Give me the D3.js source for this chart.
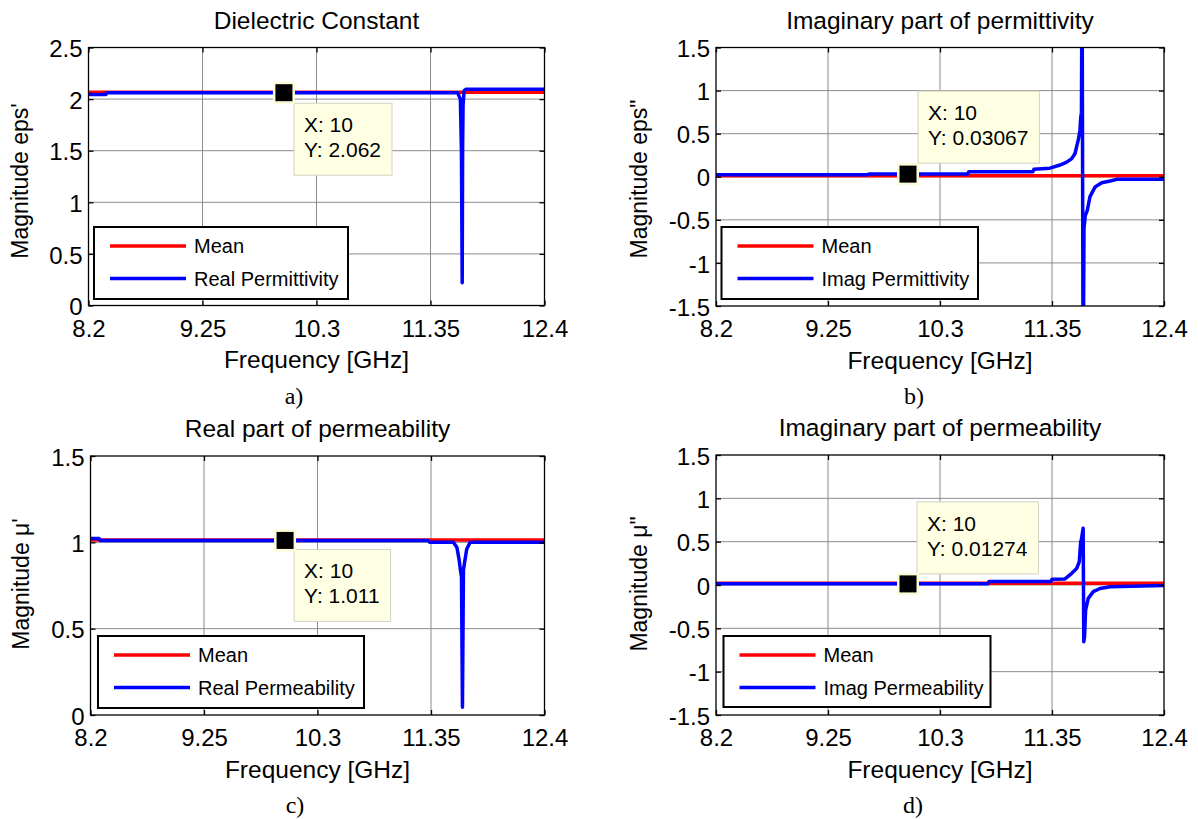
<!DOCTYPE html>
<html>
<head>
<meta charset="utf-8">
<script src="https://cdn.jsdelivr.net/npm/d3@7"></script>
<style>
  html, body { margin: 0; padding: 0; background: #fff; }
  text { font-family: Arial, "Liberation Sans", sans-serif; fill: #000; }
  .letter { font-family: "Times New Roman", "Liberation Serif", serif; }
</style>
</head>
<body>
<svg id="chart" width="1198" height="819"></svg>
<script>
  var xTicks = [8.2, 9.25, 10.3, 11.35, 12.4],
    xTickLabels = ['8.2', '9.25', '10.3', '11.35', '12.4'],
    meanFreq = [8.2, 12.4];

  // a) real permittivity
  var freqEpsRe = [8.2, 8.36, 8.37, 11.6, 11.625, 11.635, 11.642, 11.646, 11.65, 11.66, 11.675, 12.4],
    epsRe = [2.045, 2.045, 2.062, 2.062, 2.0, 1.5, 0.22, 1.55, 1.95, 2.08, 2.095, 2.095],
    meanEpsRe = [2.066, 2.066];

  // b) imaginary permittivity
  var freqEpsIm = [8.2, 9.62, 9.63, 10.56, 10.57, 11.17, 11.18, 11.33, 11.425, 11.488, 11.535, 11.566, 11.581,
      11.597, 11.612, 11.619, 11.626, 11.632, 11.642, 11.65, 11.662, 11.681, 11.706, 11.753, 11.816, 11.894, 11.956, 12.4],
    epsIm = [0.022, 0.022, 0.031, 0.031, 0.057, 0.057, 0.086, 0.1, 0.136, 0.17, 0.21, 0.27, 0.35,
      0.43, 0.54, 0.68, 0.75, 2.5, -2.5, -0.6, -0.45, -0.39, -0.23, -0.12, -0.07, -0.05, -0.03, -0.03],
    meanEpsIm = [0.012, 0.012];

  // c) real permeability
  var freqMuRe = [8.2, 8.28, 8.29, 11.32, 11.34, 11.557, 11.59, 11.61, 11.622, 11.632, 11.641, 11.65, 11.66, 11.68, 11.712, 12.4],
    muRe = [1.022, 1.022, 1.011, 1.011, 1.0, 1.0, 0.97, 0.9, 0.84, 0.8, 0.045, 0.84, 0.88, 0.96, 1.0, 1.0],
    meanMuRe = [1.013, 1.013];

  // d) imaginary permeability
  var freqMuIm = [8.2, 10.75, 10.76, 11.34, 11.35, 11.472, 11.535, 11.581, 11.606, 11.619, 11.625, 11.642,
      11.648, 11.655, 11.665, 11.69, 11.737, 11.8, 11.894, 12.4],
    muIm = [0.013, 0.013, 0.04, 0.04, 0.065, 0.07, 0.135, 0.19, 0.27, 0.5, 0.52, 0.654,
      -0.654, -0.6, -0.29, -0.154, -0.077, -0.04, -0.02, -0.005],
    meanMuIm = [0.02, 0.02];

  var tipX = 10,
    tipValues = [2.062, 0.03067, 1.011, 0.01274];

  var panels = [
    {l: 88.5, r: 544.5, t: 47.5, b: 305.5, yDomain: [0, 2.5], yTicks: [0, 0.5, 1, 1.5, 2, 2.5],
      title: 'Dielectric Constant', ylabel: "Magnitude eps'", ylx: 28, yly: 181,
      freq: freqEpsRe, vals: epsRe, mean: meanEpsRe, name: 'Real Permittivity',
      lg: {x: 94, y: 227, w: 254, h: 72}, tip: tipValues[0], tdx: 10, tdy: 10.5, below: true,
      letter: 'a)', lx: 294, ly: 404},
    {l: 716, r: 1164, t: 47.5, b: 306, yDomain: [-1.5, 1.5], yTicks: [-1.5, -1, -0.5, 0, 0.5, 1, 1.5],
      title: 'Imaginary part of permittivity', ylabel: 'Magnitude eps"', ylx: 647, yly: 179,
      freq: freqEpsIm, vals: epsIm, mean: meanEpsIm, name: 'Imag Permittivity',
      lg: {x: 721.5, y: 227, w: 256.5, h: 72}, tip: tipValues[1], tdx: 10, tdy: 11, below: false,
      letter: 'b)', lx: 914, ly: 404},
    {l: 90.5, r: 544.5, t: 456, b: 715, yDomain: [0, 1.5], yTicks: [0, 0.5, 1, 1.5],
      title: 'Real part of permeability', ylabel: "Magnitude \u03bc'", ylx: 29, yly: 584,
      freq: freqMuRe, vals: muRe, mean: meanMuRe, name: 'Real Permeability',
      lg: {x: 98, y: 636, w: 266, h: 72}, tip: tipValues[2], tdx: 9, tdy: 9, below: true,
      letter: 'c)', lx: 295, ly: 813},
    {l: 716, r: 1164, t: 455, b: 715, yDomain: [-1.5, 1.5], yTicks: [-1.5, -1, -0.5, 0, 0.5, 1, 1.5],
      title: 'Imaginary part of permeability', ylabel: 'Magnitude \u03bc"', ylx: 647, yly: 584,
      freq: freqMuIm, vals: muIm, mean: meanMuIm, name: 'Imag Permeability',
      lg: {x: 723.5, y: 636, w: 267, h: 71}, tip: tipValues[3], tdx: 9, tdy: 10, below: false,
      letter: 'd)', lx: 913, ly: 813}
  ];

  var svg = d3.select('#chart');
  svg.append('rect').attr('width', 1198).attr('height', 819).attr('fill', '#fff');

  panels.forEach(function (p, idx) {
    var x = d3.scaleLinear().domain([8.2, 12.4]).range([p.l, p.r]),
      y = d3.scaleLinear().domain(p.yDomain).range([p.b, p.t]),
      g = svg.append('g');

    g.append('rect')
      .attr('x', p.l).attr('y', p.t)
      .attr('width', p.r - p.l).attr('height', p.b - p.t)
      .attr('fill', '#fff');

    // grid
    g.selectAll('.vgrid').data(xTicks.slice(1, -1)).enter().append('line')
      .attr('x1', function (d) { return x(d); }).attr('x2', function (d) { return x(d); })
      .attr('y1', p.t).attr('y2', p.b)
      .attr('stroke', '#8c8c8c').attr('stroke-width', 1);
    g.selectAll('.hgrid').data(p.yTicks.slice(1, -1)).enter().append('line')
      .attr('y1', function (d) { return y(d); }).attr('y2', function (d) { return y(d); })
      .attr('x1', p.l).attr('x2', p.r)
      .attr('stroke', '#8c8c8c').attr('stroke-width', 1);

    var clipId = 'clip' + idx;
    g.append('clipPath').attr('id', clipId).append('rect')
      .attr('x', p.l).attr('y', p.t).attr('width', p.r - p.l).attr('height', p.b - p.t);

    var line = d3.line().x(function (d) { return x(d[0]); }).y(function (d) { return y(d[1]); });
    var plot = g.append('g').attr('clip-path', 'url(#' + clipId + ')');

    plot.append('path')
      .datum(meanFreq.map(function (f, i) { return [f, p.mean[i]]; }))
      .attr('d', line).attr('fill', 'none')
      .attr('stroke', '#ff0000').attr('stroke-width', 3.5);
    plot.append('path')
      .datum(p.freq.map(function (f, i) { return [f, p.vals[i]]; }))
      .attr('d', line).attr('fill', 'none')
      .attr('stroke', '#0000ff').attr('stroke-width', 3.5)
      .attr('stroke-linejoin', 'round').attr('stroke-linecap', 'round');

    // axes (inward ticks on all four sides)
    var ax = g.append('g').attr('transform', 'translate(0,' + p.b + ')')
      .call(d3.axisBottom(x).tickValues(xTicks)
        .tickFormat(function (d, i) { return xTickLabels[i]; })
        .tickSizeInner(-5).tickSizeOuter(0).tickPadding(14));
    var ay = g.append('g').attr('transform', 'translate(' + p.l + ',0)')
      .call(d3.axisLeft(y).tickValues(p.yTicks)
        .tickFormat(function (d) { return String(d); })
        .tickSizeInner(-5).tickSizeOuter(0).tickPadding(6));
    var at = g.append('g').attr('transform', 'translate(0,' + p.t + ')')
      .call(d3.axisTop(x).tickValues(xTicks).tickFormat('').tickSizeInner(-5).tickSizeOuter(0));
    var ar = g.append('g').attr('transform', 'translate(' + p.r + ',0)')
      .call(d3.axisRight(y).tickValues(p.yTicks).tickFormat('').tickSizeInner(-5).tickSizeOuter(0));
    [ax, ay, at, ar].forEach(function (a) {
      a.select('.domain').remove();
      a.selectAll('line').attr('stroke', '#000').attr('stroke-width', 1.3);
      a.selectAll('text').attr('font-size', '24px')
        .attr('font-family', 'Arial, "Liberation Sans", sans-serif').attr('fill', '#000');
    });
    ay.selectAll('text').attr('dy', '0.38em');

    g.append('rect')
      .attr('x', p.l).attr('y', p.t)
      .attr('width', p.r - p.l).attr('height', p.b - p.t)
      .attr('fill', 'none').attr('stroke', '#000').attr('stroke-width', 1.3);

    // labels
    g.append('text')
      .attr('x', (p.l + p.r) / 2).attr('y', p.t - 19)
      .attr('text-anchor', 'middle').attr('font-size', '24.5px')
      .text(p.title);
    g.append('text')
      .attr('x', (p.l + p.r) / 2).attr('y', p.b + 62.5)
      .attr('text-anchor', 'middle').attr('font-size', '24.5px')
      .text('Frequency [GHz]');
    g.append('text')
      .attr('transform', 'translate(' + p.ylx + ',' + p.yly + ') rotate(-90)')
      .attr('text-anchor', 'middle').attr('font-size', '23px')
      .text(p.ylabel);
    g.append('text').attr('class', 'letter')
      .attr('x', p.lx).attr('y', p.ly)
      .attr('text-anchor', 'middle').attr('font-size', '24px')
      .text(p.letter);

    // legend
    var lg = g.append('g');
    lg.append('rect')
      .attr('x', p.lg.x).attr('y', p.lg.y).attr('width', p.lg.w).attr('height', p.lg.h)
      .attr('fill', '#fff').attr('stroke', '#000').attr('stroke-width', 2);
    [['Mean', '#ff0000', 19], [p.name, '#0000ff', 51.5]].forEach(function (e) {
      lg.append('line')
        .attr('x1', p.lg.x + 16).attr('x2', p.lg.x + 92)
        .attr('y1', p.lg.y + e[2]).attr('y2', p.lg.y + e[2])
        .attr('stroke', e[1]).attr('stroke-width', 3.5);
      lg.append('text')
        .attr('x', p.lg.x + 100).attr('y', p.lg.y + e[2] + 7)
        .attr('font-size', '20px')
        .text(e[0]);
    });

    // data tip
    var mx = x(tipX), my = y(p.tip);
    var tip = g.append('g');
    var box = tip.append('rect')
      .attr('fill', '#ffffe3').attr('stroke', '#d2d2c4').attr('stroke-width', 1);
    var bx = mx + p.tdx,
      by = p.below ? my + p.tdy : my - p.tdy - 72;
    var t1 = tip.append('text').attr('x', bx + 10).attr('y', by + 29).attr('font-size', '21px').text('X: ' + tipX),
      t2 = tip.append('text').attr('x', bx + 10).attr('y', by + 54).attr('font-size', '21px').text('Y: ' + p.tip);
    var tw = Math.max(t1.node().getComputedTextLength(), t2.node().getComputedTextLength());
    box.attr('x', bx).attr('y', by).attr('width', tw + 21).attr('height', 72);
    tip.append('rect')
      .attr('x', mx - 9.75).attr('y', my - 9.75).attr('width', 19.5).attr('height', 19.5)
      .attr('fill', '#000').attr('stroke', '#fbfbd8').attr('stroke-width', 2.5);
  });
</script>
</body>
</html>
